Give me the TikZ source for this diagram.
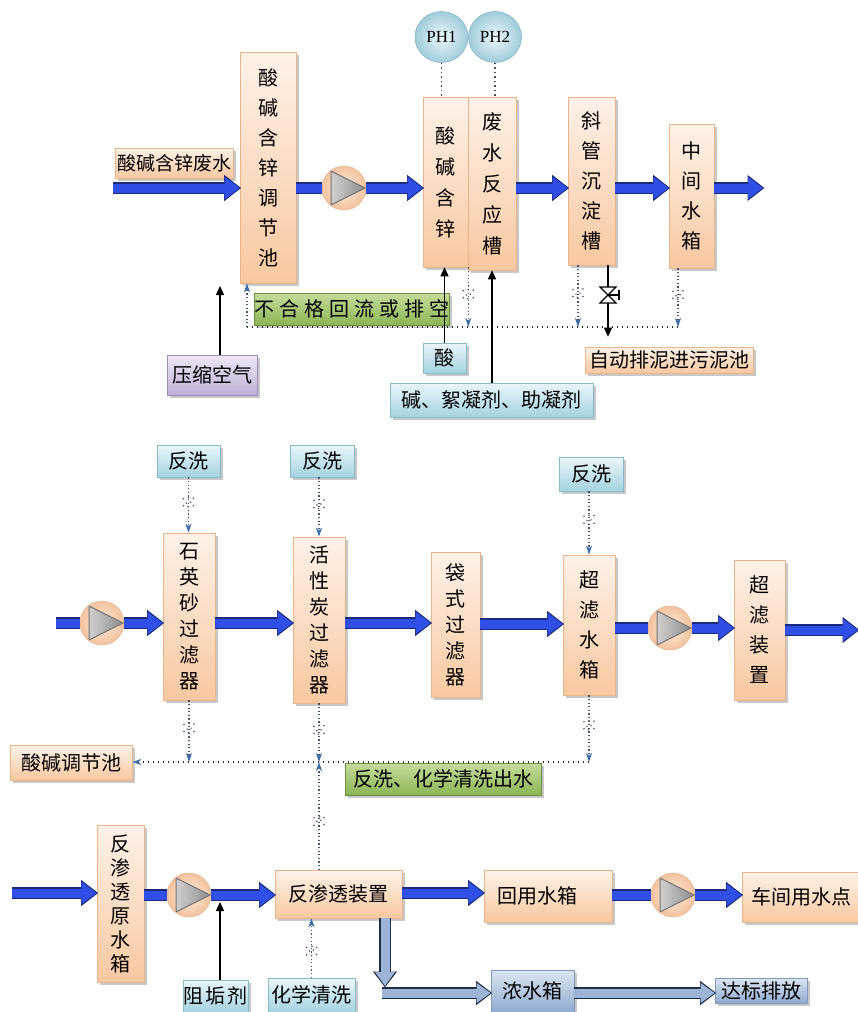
\documentclass[tikz,border=0pt]{standalone}
\usepackage{fontspec}
\setmainfont{Liberation Serif}
\newfontfamily\cjk{Noto Sans CJK SC}
\usetikzlibrary{arrows.meta,shadows,decorations.markings,shapes.geometric}
\definecolor{orT}{HTML}{FEF2E8}
\definecolor{orB}{HTML}{F9C8A0}
\definecolor{orE}{HTML}{E8B48C}
\definecolor{cyT}{HTML}{EAF6FA}
\definecolor{cyB}{HTML}{A4D3E0}
\definecolor{cyE}{HTML}{86BACB}
\definecolor{grT}{HTML}{C6DC9C}
\definecolor{grB}{HTML}{8CB556}
\definecolor{grE}{HTML}{6A9140}
\definecolor{puT}{HTML}{EFE8F6}
\definecolor{puB}{HTML}{BEAED8}
\definecolor{puE}{HTML}{9E8CBF}
\definecolor{slT}{HTML}{DCE6F2}
\definecolor{slB}{HTML}{8FAAD0}
\definecolor{slE}{HTML}{7F97BA}
\definecolor{blA}{HTML}{2F4FE6}
\definecolor{blE}{HTML}{1B2A7A}
\definecolor{gyA}{HTML}{9CB5D6}
\definecolor{gyE}{HTML}{1E2D45}
\definecolor{dotc}{HTML}{44546A}
\definecolor{tipc}{HTML}{3E6DA8}
\definecolor{pI}{HTML}{FDEBDD}
\definecolor{pO}{HTML}{F3C39E}
\definecolor{phI}{HTML}{EEF8FB}
\definecolor{phO}{HTML}{9FCCDA}
\newcommand\flowspray{\fill[dotc] (-4,-5) circle (0.9) (3.5,-5) circle (0.9) (-4.5,0) circle (0.9) (4.5,0.5) circle (0.9) (-3.5,5) circle (0.9) (3.5,5) circle (0.9) (0,-2) circle (0.8) (1,2) circle (0.8);}
\tikzset{
  sz/.style 2 args={minimum width=#1pt, minimum height=#2pt},
  box/.style={rectangle, inner sep=0pt, draw=orE, line width=0.6pt, top color=orT, bottom color=orB,
    drop shadow={shadow xshift=2.5pt, shadow yshift=-2.5pt, opacity=0.3, fill=black!70},
    font=\cjk\fontsize{20pt}{24pt}\selectfont, align=center},
  vbox/.style={box, font=\cjk\fontsize{20pt}{30pt}\selectfont},
  vboxb/.style={box, font=\cjk\fontsize{20pt}{26pt}\selectfont},
  vboxc/.style={box, font=\cjk\fontsize{20pt}{24pt}\selectfont},
  cyanbox/.style={box, draw=cyE, top color=cyT, bottom color=cyB},
  greenbox/.style={box, draw=grE, top color=grT, bottom color=grB},
  purplebox/.style={box, draw=puE, top color=puT, bottom color=puB},
  slatebox/.style={box, draw=slE, top color=slT, bottom color=slB},
  ph/.style={ellipse, minimum width=53pt, minimum height=51pt, inner sep=0pt, draw=cyE, line width=0.6pt,
    inner color=phI, outer color=phO, font=\fontsize{17pt}{19pt}\selectfont},
  pumptri/.style={draw=black!55, line width=1pt, left color=black!12, right color=black!45},
  pump/.style={circle, minimum size=44pt, inner sep=0pt, draw=orE, line width=0.5pt, inner color=pI, outer color=pO,
    path picture={\draw[pumptri] ([shift={(-13,-17)}]path picture bounding box.center)
       -- ([shift={(21,0)}]path picture bounding box.center)
       -- ([shift={(-13,17)}]path picture bounding box.center) -- cycle;}},
  blueshaft/.style={line width=9pt, draw=blA, preaction={draw=blE, line width=11.5pt}},
  bluearr/.style={line width=9pt, draw=blA, -{Triangle[length=15pt,width=21pt]},
    preaction={draw=blE, line width=11.5pt, shorten >=-1.5pt, -{Triangle[length=17pt,width=25pt]}}},
  greyarr/.style={line width=9pt, draw=gyA, -{Triangle[length=14pt,width=19pt]},
    preaction={draw=gyE, line width=11.5pt, shorten >=-1.5pt, -{Triangle[length=16pt,width=23pt]}}},
  blk/.style={draw=black, line width=1.4pt, -{Triangle[length=9pt,width=8pt]}},
  dotbase/.style={draw=dotc, line width=1.2pt, dash pattern=on 1.2pt off 2.4pt},
  flowtip/.style={dotbase, -{Stealth[length=9pt,width=6pt,inset=2.5pt,color=tipc]}},
  flowdot/.style={flowtip, postaction={decorate, decoration={markings, mark=at position 0.45 with {\flowspray}}}},
  retline/.style={draw=black!85, line width=1.3pt, dash pattern=on 1.3pt off 3.7pt},
  phline/.style={draw=black!70, line width=1.2pt, dash pattern=on 1.2pt off 3.3pt},
}
\begin{document}
\begin{tikzpicture}[x=1pt,y=-1pt]
\useasboundingbox[fill=white] (0,0) rectangle (858,1012);
% ---------------- top section
\coordinate (in0) at (113,188);
\coordinate (out1) at (763,188);
\coordinate (rt) at (247,327);
\coordinate (rr) at (678,327);
\coordinate (aird) at (220,286);
\coordinate (vl) at (608,0);
\node[vbox, sz={56}{231}] (tj) at (268,167.5) {酸\\碱\\含\\锌\\调\\节\\池};
\node[box, sz={118}{30}, font=\cjk\fontsize{19pt}{22pt}\selectfont] (fs) at (174,163) {酸碱含锌废水};
\node[ph] (ph1) at (441.5,37) {PH1};
\node[ph] (ph2) at (495,37) {PH2};
\node[vbox, sz={45}{170}, font=\cjk\fontsize{20pt}{31pt}\selectfont] (sj) at (445.5,182) {酸\\碱\\含\\锌};
\node[vbox, sz={48}{173}, font=\cjk\fontsize{20pt}{31pt}\selectfont] (fy) at (492,183.5) {废\\水\\反\\应\\槽};
\node[vbox, sz={47}{168}] (xg) at (591.5,181) {斜\\管\\沉\\淀\\槽};
\node[vbox, sz={45}{144}] (zj) at (691.5,196) {中\\间\\水\\箱};
\node[cyanbox, sz={43}{30}] (suan) at (444.5,358) {酸};
\node[cyanbox, sz={203}{34}] (jian) at (491.5,400) {碱、絮凝剂、助凝剂};
\node[greenbox, sz={177}{32}] (bhg) at (351.5,309) {不\kern5pt 合\kern5pt 格\kern5pt 回\kern5pt 流\kern5pt 或\kern5pt 排\kern5pt 空};
\node[box, sz={168}{26}] (pn) at (669,360) {自动排泥进污泥池};
\node[purplebox, sz={90}{40}] (ysk) at (212,375) {压缩空气};
\node[pump] (p1) at (344,188) {};

\draw[bluearr] (in0) -- (in0 -| tj.west);
\draw[blueshaft] (tj.east |- p1) -- (p1.west);
\draw[bluearr] (p1.east) -- (sj.west |- p1);
\draw[bluearr] (fy.east |- in0) -- (xg.west |- in0);
\draw[bluearr] (xg.east |- in0) -- (zj.west |- in0);
\draw[bluearr] (zj.east |- out1) -- (out1);
\draw[phline] (ph1.south) -- (ph1.south |- sj.north);
\draw[phline] (ph2.south) -- (ph2.south |- fy.north);
\draw[blk] (suan.north) -- (suan.north |- sj.south);
\draw[blk] (jian.north -| fy.south) -- (fy.south);
\draw[blk] (ysk.north -| aird) -- (aird);
\draw[retline] (rt) -- (rr);
\draw[flowtip] (rt) -- (rt |- tj.south);
\draw[flowdot] (sj.south east) -- (sj.south east |- rt);
\draw[flowdot] ([xshift=-13.5pt]xg.south) -- ([xshift=-13.5pt]xg.south |- rt);
\draw[flowdot] ([xshift=-13.5pt]zj.south) -- ([xshift=-13.5pt]zj.south |- rt);
\draw[blk, shorten >=10pt] (xg.south -| vl) -- (pn.north -| vl);
\draw[black, line width=1.2pt, fill=white] (600,287) -- (616,287) -- (600,303) -- (616,303) -- cycle;
\draw[black, line width=1.2pt] (608,295) -- (619,295) (619,290) -- (619,300);

% ---------------- middle section
\coordinate (in2) at (56,623);
\coordinate (out2) at (858,630);
\coordinate (m1) at (589,762);
\node[cyanbox, sz={63}{32}] (fx1) at (188.5,461) {反洗};
\node[cyanbox, sz={64}{32}] (fx2) at (322,461) {反洗};
\node[cyanbox, sz={64}{34}] (fx3) at (591,474) {反洗};
\node[vboxb, sz={52}{167}] (sy) at (189,616.5) {石\\英\\砂\\过\\滤\\器};
\node[vboxb, sz={52}{166}] (hx) at (319,620) {活\\性\\炭\\过\\滤\\器};
\node[vboxb, sz={49}{145}] (ds) at (455.5,624.5) {袋\\式\\过\\滤\\器};
\node[vbox, sz={52}{140}] (cx) at (589,625) {超\\滤\\水\\箱};
\node[vbox, sz={51}{140}] (cz) at (759.5,630) {超\\滤\\装\\置};
\node[box, sz={122}{35}] (sjt) at (71,762.5) {酸碱调节池};
\node[greenbox, sz={196}{32}] (fxq) at (443,779) {反洗、化学清洗出水};
\node[pump] (p2) at (102,623) {};
\node[pump] (p3) at (670,628) {};

\draw[blueshaft] (in2) -- (p2.west);
\draw[bluearr] (p2.east) -- (p2.east -| sy.west);
\draw[bluearr] (sy.east |- in2) -- (hx.west |- in2);
\draw[bluearr] (hx.east |- in2) -- (ds.west |- in2);
\draw[bluearr] (ds.east |- 0,624) -- (cx.west |- 0,624);
\draw[blueshaft] (cx.east |- p3) -- (p3.west);
\draw[bluearr] (p3.east) -- (cz.west |- p3);
\draw[bluearr] (cz.east |- out2) -- (out2);
\draw[flowdot] (fx1.south) -- (fx1.south |- sy.north);
\draw[flowdot] (hx.north |- fx2.south) -- (hx.north);
\draw[flowdot] (cx.north |- fx3.south) -- (cx.north);
\draw[flowdot] (sy.south) -- (sy.south |- m1);
\draw[flowdot] (hx.south) -- (hx.south |- m1);
\draw[flowdot] (cx.south) -- (cx.south |- m1);
\draw[retline, -{Stealth[length=9pt,width=6pt,inset=2.5pt,color=tipc]}] (m1) -- (sjt.east |- m1);

% ---------------- bottom section
\coordinate (in3) at (12,893);
\coordinate (zgt) at (220,902);
\coordinate (gd) at (385,986);
\coordinate (gh) at (382,993);
\node[vboxc, sz={47}{157}] (ys) at (120.5,903.5) {反\\渗\\透\\原\\水\\箱};
\node[box, sz={127}{48}] (ro) at (338.5,894) {反渗透装置};
\node[cyanbox, sz={65}{32}] (zg) at (215.5,996) {阻\kern2pt 垢\kern2pt 剂};
\node[cyanbox, sz={87}{34}] (hq) at (311.5,995) {化学清洗};
\node[box, sz={128}{52}, text width=102pt, align=left, inner xsep=13pt] (hy) at (548,896) {回用水箱};
\node[box, sz={118}{50}] (cj) at (801,897) {车间用水点};
\node[slatebox, sz={83}{42}] (ns) at (532.5,991) {浓水箱};
\node[slatebox, sz={92}{25}] (db) at (761,990.5) {达标排放};
\node[pump] (p4) at (189,895) {};
\node[pump] (p5) at (673,895) {};

\draw[bluearr] (in3) -- (in3 -| ys.west);
\draw[blueshaft] (ys.east |- p4) -- (p4.west);
\draw[bluearr] (p4.east) -- (ro.west |- p4);
\draw[blk] (zg.north -| zgt) -- (zgt);
\draw[flowdot] (hq.north) -- (hq.north |- ro.south);
\draw[flowdot] (ro.north -| hx.south) -- (hx.south |- m1);
\draw[bluearr] (ro.east |- in3) -- (hy.west |- in3);
\draw[blueshaft] (hy.east |- p5) -- (p5.west);
\draw[bluearr] (p5.east) -- (cj.west |- p5);
\draw[greyarr] (ro.south -| gd) -- (gd);
\draw[greyarr] (gh) -- (ns.west |- gh);
\draw[greyarr] (ns.east |- gh) -- (db.west |- gh);
\end{tikzpicture}
\end{document}
